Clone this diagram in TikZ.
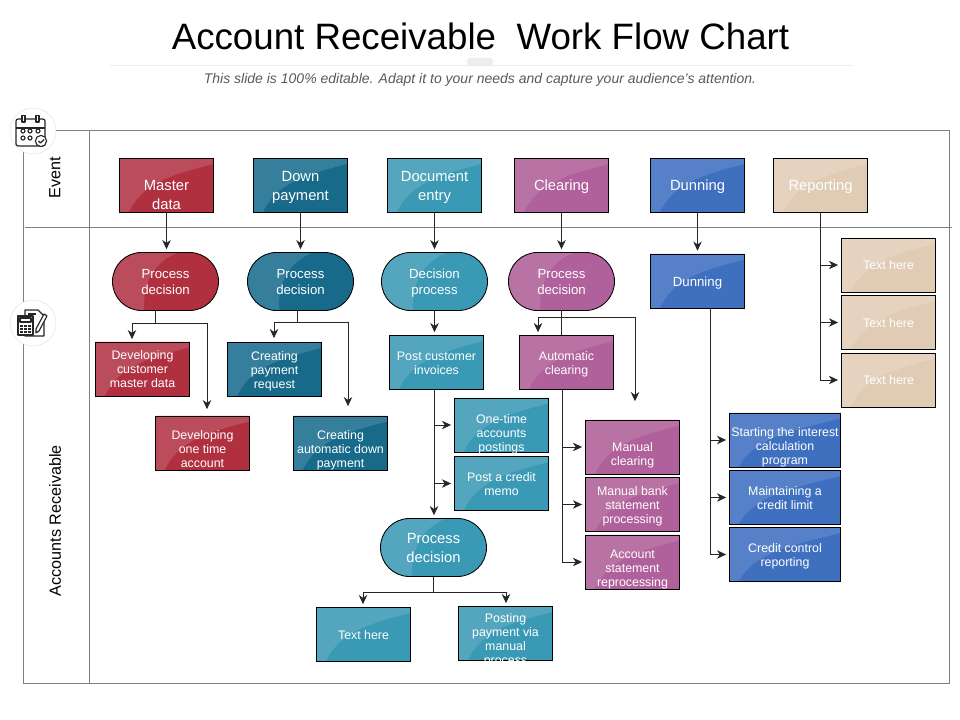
\documentclass[tikz,border=0pt]{standalone}
\usepackage{fontspec}
\setmainfont{Liberation Sans}
\usetikzlibrary{arrows.meta,shapes.misc}
\definecolor{redbase}{HTML}{B03040}
\definecolor{redlight}{HTML}{BA4C5C}
\definecolor{navybase}{HTML}{176A8A}
\definecolor{navylight}{HTML}{357E9C}
\definecolor{tealbase}{HTML}{3A99B5}
\definecolor{teallight}{HTML}{54A6BE}
\definecolor{plumbase}{HTML}{B0609A}
\definecolor{plumlight}{HTML}{B972A4}
\definecolor{bluebase}{HTML}{3F6FBF}
\definecolor{bluelight}{HTML}{5681C9}
\definecolor{tanbase}{HTML}{E0CBB4}
\definecolor{tanlight}{HTML}{E5D3C0}
\newcommand{\boxtext}[2][0]{\raisebox{\dimexpr-3.7pt-#1pt\relax}[0pt][0pt]{\begin{tabular}{@{}c@{}}#2\end{tabular}}}
\tikzset{
  bigfont/.style={font=\fontsize{10.5}{13.5}\selectfont},
  midfont/.style={font=\fontsize{9.4}{11.4}\selectfont},
  smallfont/.style={font=\fontsize{8.8}{10}\selectfont},
  flatbox/.style={draw=black,line width=0.6pt,fill=#1base,text=white,inner sep=0pt,
    minimum width=2.36cm,minimum height=1.35cm,smallfont,
    path picture={\fill[#1light] (path picture bounding box.south west) ++(0.235cm,0cm)
      .. controls +(0.35cm,0.74cm) and +(-1.05cm,-0.27cm) .. ([yshift=-0.135cm]path picture bounding box.north east)
      -- (path picture bounding box.north east) -- (path picture bounding box.north west)
      -- (path picture bounding box.south west) -- cycle;}},
  pillbox/.style={rounded rectangle,draw=black,line width=0.6pt,fill=#1base,text=white,inner sep=0pt,
    minimum width=2.65cm,minimum height=1.45cm,midfont,
    path picture={\fill[#1light] (path picture bounding box.south west) ++(0.795cm,0cm)
      .. controls +(-0.05cm,0.72cm) and +(-0.58cm,-0.22cm) .. ([xshift=1.643cm]path picture bounding box.north west)
      -- (path picture bounding box.north west) -- (path picture bounding box.south west) -- cycle;}},
  flow/.style={draw=black!85,line width=0.6pt},
  tip/.style={flow,-{Stealth[length=6.5pt,width=6pt,inset=2pt]},shorten >=2pt},
  frameline/.style={draw=black!50,line width=0.6pt},
  iconline/.style={draw=black!85,line width=0.8pt,line join=round}
}
\begin{document}
\begin{tikzpicture}[x=0.025cm,y=-0.025cm]
\useasboundingbox (0,0) rectangle (960,720);
\node[font=\fontsize{26.1}{30}\selectfont,inner sep=0pt] (title) at (480.5,36) {Account Receivable\ \ Work Flow Chart};
\draw[black!7,line width=0.5pt] (110,65) -- (853,65);
\fill[black!7,rounded corners=2pt] (467,58) rectangle (493,66);
\node[font=\fontsize{9.96}{12}\selectfont\itshape,text=black!65,inner sep=0pt] (subtitle) at (480,80) {This slide is 100\% editable. Adapt it to your needs and capture your audience's attention.};

\draw[frameline] (23,130) rectangle (949,683);
\draw[frameline] (89,130) -- (89,683);
\draw[frameline] (25,227) -- (952,227);
\node[rotate=90,font=\fontsize{11.5}{13}\selectfont,inner sep=0pt] (eventlane) at (55,178) {Event};
\node[rotate=90,font=\fontsize{11.5}{13}\selectfont,inner sep=0pt] (arlane) at (55,520.5) {Accounts Receivable};

\filldraw[fill=white,draw=black!10] (33,131) circle (0.575cm);
\draw[iconline,rounded corners=1.5pt] (16,119) rectangle (45,146);
\draw[iconline] (16,128) -- (45,128);
\draw[iconline,fill=white] (22,115.5) rectangle (25,122);
\draw[iconline,fill=white] (36,115.5) rectangle (39,122);
\foreach \x in {23,30,38} \draw[iconline] (\x,131) circle (0.05cm);
\foreach \x in {23,30} \draw[iconline] (\x,138) circle (0.05cm);
\filldraw[iconline,fill=white] (41,141) circle (0.14cm);
\draw[iconline] (38.5,141) -- (40.5,143) -- (44,139.5);

\filldraw[fill=white,draw=black!10] (33,323) circle (0.575cm);
\draw[iconline] (25,310) -- (38,310) -- (44,316) -- (44,336) -- (25,336) -- cycle;
\draw[iconline] (28,314) -- (36,314);
\filldraw[iconline,fill=white] (18,316) rectangle (33,335);
\draw[iconline] (20,318) rectangle (31,322);
\foreach \y in {325,328,331} \foreach \x in {20,24,28} \fill[black!85] (\x,\y) rectangle +(2.5,2);
\filldraw[iconline,fill=white] (44,314) -- (47,316) -- (39,331) -- (36,333) -- (36,329) -- cycle;

\node[flatbox=red,bigfont] (masterdata) at (166.5,185.5) {\boxtext[6.4]{Master\\data}};
\node[flatbox=navy,bigfont] (downpayment) at (300.5,185.5) {\boxtext{Down\\payment}};
\node[flatbox=teal,bigfont] (docentry) at (434.5,185.5) {\boxtext{Document\\entry}};
\node[flatbox=plum,bigfont] (clearing) at (561.5,185.5) {\boxtext{Clearing}};
\node[flatbox=blue,bigfont] (dunning) at (697.5,185.5) {\boxtext{Dunning}};
\node[flatbox=tan,bigfont] (reporting) at (820.5,185.5) {\boxtext{Reporting}};

\node[pillbox=red] (decmaster) at (165.5,281.5) {\boxtext{Process\\decision}};
\node[pillbox=navy] (decdown) at (300.5,281.5) {\boxtext{Process\\decision}};
\node[pillbox=teal] (decentry) at (434.5,281.5) {\boxtext{Decision\\process}};
\node[pillbox=plum] (decclear) at (561.5,281.5) {\boxtext{Process\\decision}};
\node[flatbox=blue,midfont] (dunbox) at (697.5,281) {\boxtext{Dunning}};

\node[flatbox=tan] (reptexta) at (888.5,265) {\boxtext{Text here}};
\node[flatbox=tan] (reptextb) at (888.5,322.5) {\boxtext{Text here}};
\node[flatbox=tan] (reptextc) at (888.5,380) {\boxtext{Text here}};

\node[flatbox=red] (custmaster) at (142.5,369) {\boxtext{Developing\\customer\\master data}};
\node[flatbox=navy] (payrequest) at (274.5,369.5) {\boxtext{Creating\\payment\\request}};
\node[flatbox=teal] (postinv) at (436.5,362.5) {\boxtext{Post customer\\invoices}};
\node[flatbox=plum] (autoclear) at (566.5,362.5) {\boxtext{Automatic\\clearing}};
\node[flatbox=red] (onetime) at (202.5,443) {\boxtext[4.3]{Developing\\one time\\account}};
\node[flatbox=navy] (autodown) at (340.5,443) {\boxtext[4.3]{Creating\\automatic down\\payment}};
\node[flatbox=teal] (onepost) at (501.5,425) {\boxtext[5.7]{One-time\\accounts\\postings}};
\node[flatbox=teal] (creditmemo) at (501.5,483.5) {\boxtext{Post a credit\\memo}};
\node[flatbox=plum] (manclear) at (632.5,447) {\boxtext[5]{Manual\\clearing}};
\node[flatbox=plum] (manbank) at (632.5,504.5) {\boxtext{Manual bank\\statement\\processing}};
\node[flatbox=plum] (accstate) at (632.5,562) {\boxtext[4.3]{Account\\statement\\reprocessing}};
\node[flatbox=blue,minimum width=2.78cm] (interest) at (785,440) {\boxtext[4.3]{Starting the interest\\calculation\\program}};
\node[flatbox=blue,minimum width=2.78cm] (creditlimit) at (785,497.5) {\boxtext{Maintaining a\\credit limit}};
\node[flatbox=blue,minimum width=2.78cm] (creditctrl) at (785,554.5) {\boxtext{Credit control\\reporting}};
\node[pillbox=teal,bigfont] (decpay) at (433.5,547.5) {\boxtext{Process\\decision}};
\node[flatbox=teal] (textpay) at (363.5,634.5) {\boxtext{Text here}};
\node[flatbox=teal] (manualpay) at (505.5,633.5) {\boxtext[3.6]{Posting\\payment via\\manual\\process}};

\coordinate (masterout) at (155,311);
\coordinate (masterbus) at (155,323);
\coordinate (custin) at (132,342);
\coordinate (onein) at (207,412);
\coordinate (downout) at (297,311);
\coordinate (downbus) at (297,322);
\coordinate (reqin) at (274,341);
\coordinate (autoin) at (348,409);
\coordinate (clearbus) at (561.5,317);
\coordinate (autoclearin) at (538,335);
\coordinate (manclearin) at (635,404);
\coordinate (invbus) at (434,390);
\coordinate (autobus) at (562,390);
\coordinate (dunbus) at (710,308);
\coordinate (paybus) at (433.5,592);
\coordinate (textpayin) at (363,607);
\coordinate (manualin) at (506,606);

\draw[tip] (masterdata.south) -- (masterdata.south |- decmaster.north);
\draw[tip] (downpayment.south) -- (decdown.north);
\draw[tip] (docentry.south) -- (decentry.north);
\draw[tip] (clearing.south) -- (decclear.north);
\draw[tip] (dunning.south) -- (dunbox.north);
\draw[flow] (masterout) -- (masterbus);
\draw[tip] (masterbus) -| (custin);
\draw[tip] (masterbus) -| (onein);
\draw[flow] (downout) -- (downbus);
\draw[tip] (downbus) -| (reqin);
\draw[tip] (downbus) -| (autoin);
\draw[tip] (decentry.south) -- (decentry.south |- postinv.north);
\draw[tip] (invbus) -- (invbus |- decpay.north);
\draw[tip] (invbus) |- (onepost.west);
\draw[tip] (invbus) |- (creditmemo.west);
\draw[flow] (decclear.south) -- (decclear.south |- autoclear.north);
\draw[tip] (clearbus) -| (autoclearin);
\draw[tip] (clearbus) -| (manclearin);
\draw[tip] (autobus) |- (manclear.west);
\draw[tip] (autobus) |- (manbank.west);
\draw[tip] (autobus) |- (accstate.west);
\draw[tip] (dunbus) |- (interest.west);
\draw[tip] (dunbus) |- (creditlimit.west);
\draw[tip] (dunbus) |- (creditctrl.west);
\draw[tip] (reporting.south) |- (reptexta.west);
\draw[tip] (reporting.south) |- (reptextb.west);
\draw[tip] (reporting.south) |- (reptextc.west);
\draw[flow] (decpay.south) -- (paybus);
\draw[tip] (paybus) -| (textpayin);
\draw[tip] (paybus) -| (manualin);
\end{tikzpicture}
\end{document}
